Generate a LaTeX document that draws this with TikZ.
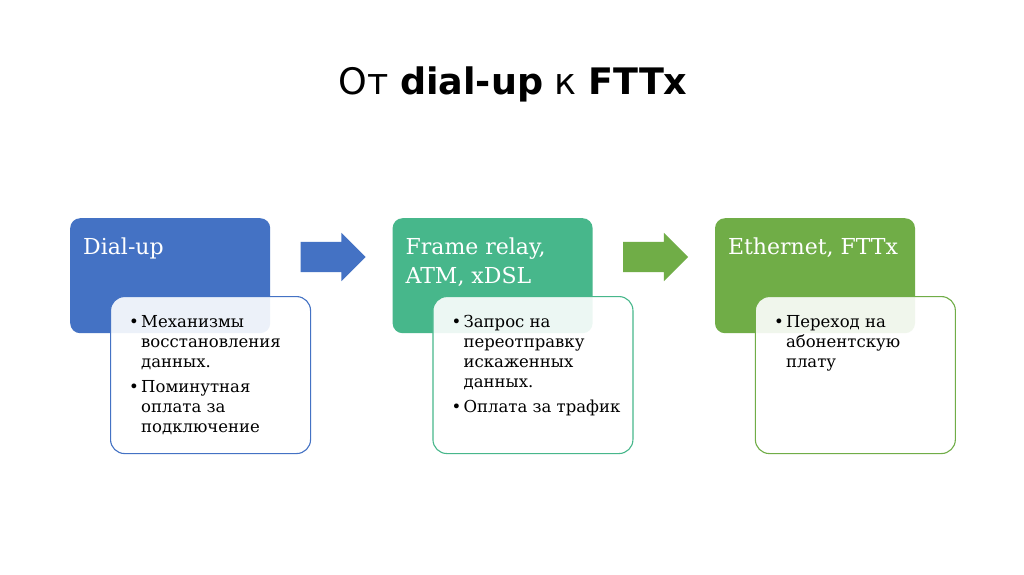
\documentclass[tikz,border=0pt]{standalone}
\usepackage{fontspec}
\setmainfont{DejaVu Serif}
\newfontfamily\titlefont{DejaVu Sans}
\usepackage{tikz}
\usetikzlibrary{positioning, shapes.arrows}

\definecolor{stageblue}{HTML}{4472C4}
\definecolor{stageteal}{HTML}{47B78B}
\definecolor{stagegreen}{HTML}{70AD47}

\newcommand{\bul}{\makebox[12pt][l]{\textbullet}}
\newcommand{\hang}{\hspace*{12pt}}

\tikzset{
	stagebox/.style={fill=#1, rounded corners=10pt, minimum width=200pt, minimum height=115pt, inner sep=0pt},
	stagetitle/.style={text=white, font=\fontsize{22}{29}\selectfont, align=left, anchor=north west, inner sep=0pt},
	notebox/.style={draw=#1, line width=1.1pt, fill=white, fill opacity=0.9, rounded corners=14pt, minimum width=200pt, minimum height=157pt, anchor=north west, inner sep=0pt},
	notetext/.style={font=\fontsize{16.5}{20}\selectfont, align=left, anchor=north west, inner sep=0pt},
	stagearrow/.style={single arrow, fill=#1, minimum height=65pt, inner xsep=0pt, inner ysep=15pt, single arrow head extend=9pt, single arrow tip angle=90, anchor=tail}
}

\begin{document}
\begin{tikzpicture}[x=1pt, y=-1pt]
			\fill[white] (0,0) rectangle (1024,574);
			\useasboundingbox (0,0) rectangle (1024,574);
			\node[font=\titlefont\fontsize{36.5}{40}\selectfont, anchor=base] (title) at (513,94) {От \textbf{dial-up} к \textbf{FTTx}};
			\node[stagebox=stageblue, anchor=north west] (dialup) at (70,218) {};
			\node[stagebox=stageteal, right=122pt of dialup.north east, anchor=north west] (frame) {};
			\node[stagebox=stagegreen, right=122pt of frame.north east, anchor=north west] (ether) {};
			\node[stagetitle] (dialup title) at ([shift={(13,20)}]dialup.north west) {Dial-up};
			\node[stagetitle] (frame title) at ([shift={(13,20)}]frame.north west) {Frame relay,\\ATM, xDSL};
			\node[stagetitle] (ether title) at ([shift={(13,20)}]ether.north west) {Ethernet, FTTx};
			\node[stagearrow=stageblue] (arrow 1) at ([shift={(30,39)}]dialup.north east) {};
			\node[stagearrow=stagegreen] (arrow 2) at ([shift={(30,39)}]frame.north east) {};
			\node[notebox=stageblue] (dialup note) at ([shift={(40,78)}]dialup.north west) {};
			\node[notebox=stageteal] (frame note) at ([shift={(40,78)}]frame.north west) {};
			\node[notebox=stagegreen] (ether note) at ([shift={(40,78)}]ether.north west) {};
			\node[notetext] (dialup items) at ([shift={(19,19)}]dialup note.north west) {\bul Механизмы\\\hang восстановления\\\hang данных.\\[5pt]\bul Поминутная\\\hang оплата за\\\hang подключение};
			\node[notetext] (frame items) at ([shift={(19,19)}]frame note.north west) {\bul Запрос на\\\hang переотправку\\\hang искаженных\\\hang данных.\\[5pt]\bul Оплата за трафик};
			\node[notetext] (ether items) at ([shift={(19,19)}]ether note.north west) {\bul Переход на\\\hang абонентскую\\\hang плату};
		\end{tikzpicture}
\end{document}
